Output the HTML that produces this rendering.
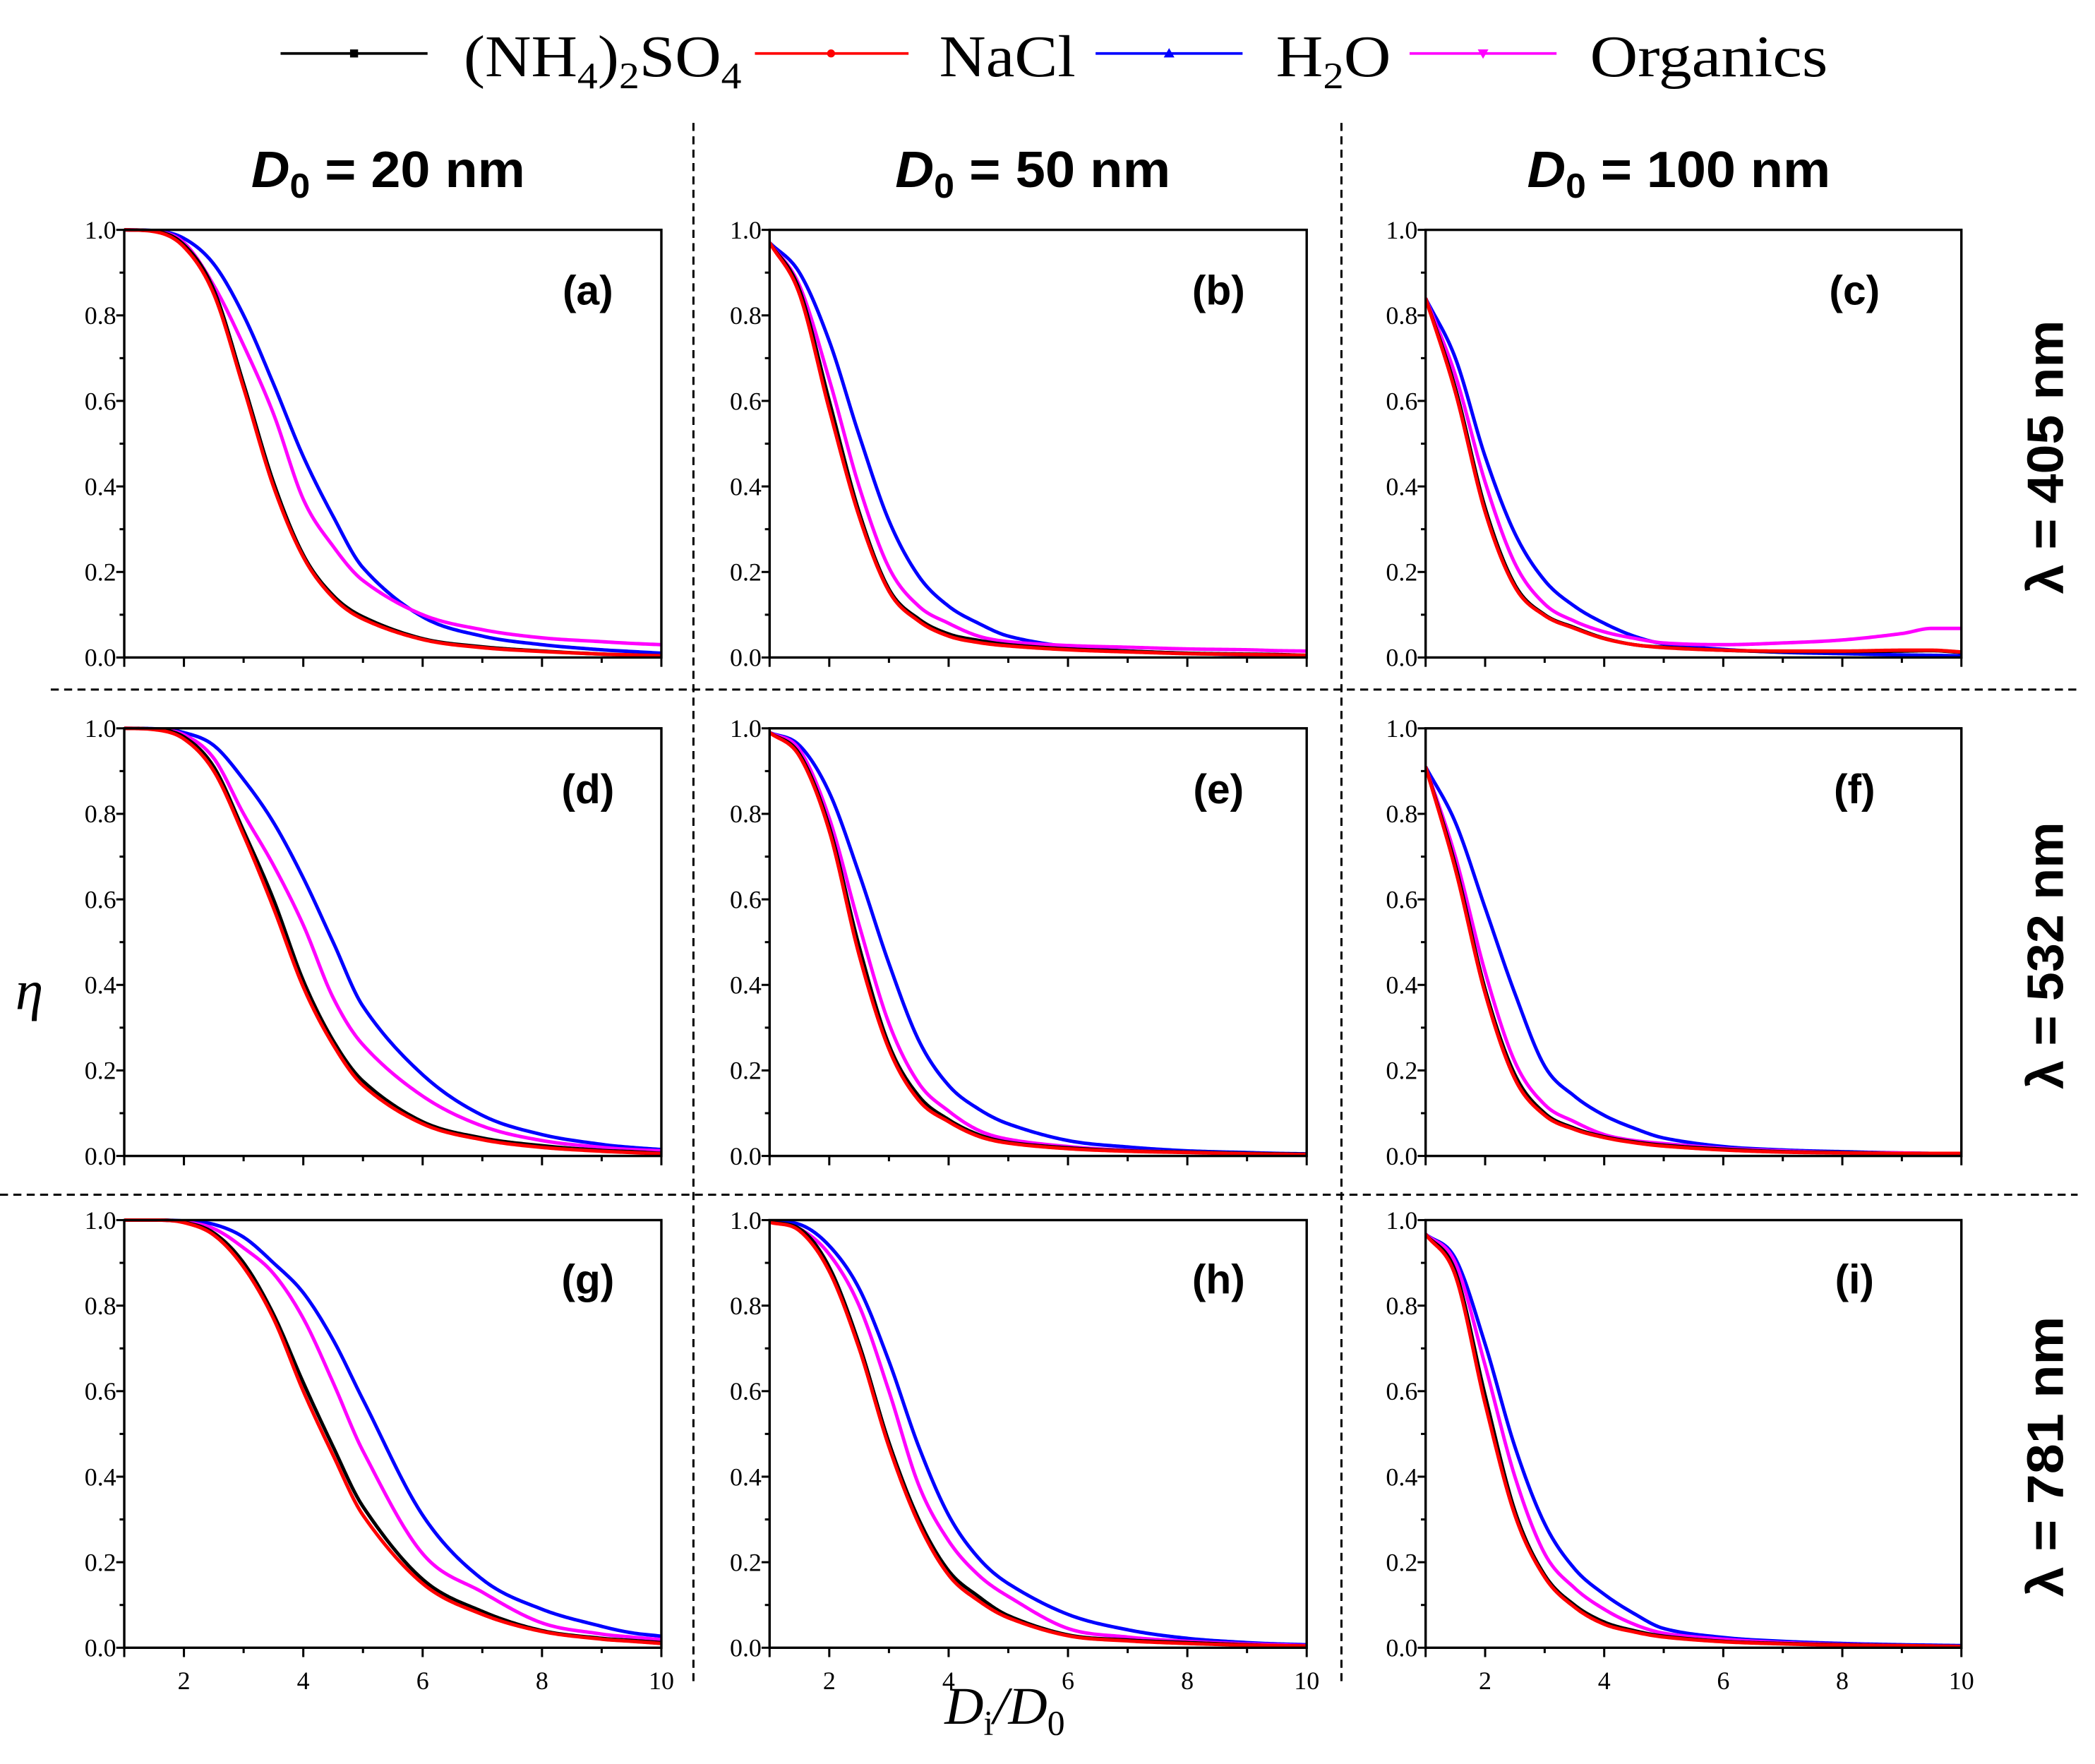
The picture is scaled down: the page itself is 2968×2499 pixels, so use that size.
<!DOCTYPE html>
<html>
<head>
<meta charset="utf-8">
<style>
html,body{margin:0;padding:0;background:#fff;}
svg{display:block;}
</style>
</head>
<body>
<svg id="fig" xmlns="http://www.w3.org/2000/svg" width="2968" height="2499" viewBox="0 0 1568 1320" preserveAspectRatio="none">
  <rect x="0" y="0" width="1568" height="1320" fill="#fff"/>
  <g font-family="'Liberation Serif', serif" font-size="44" fill="#000">
    <g>
      <line x1="210" y1="40" x2="320" y2="40" stroke="#000" stroke-width="2"/>
      <rect x="262" y="37" width="6" height="6" fill="#000"/>
      <text x="347" y="57" textLength="208" lengthAdjust="spacingAndGlyphs">(NH<tspan font-size="28" dy="9">4</tspan><tspan dy="-9">)</tspan><tspan font-size="28" dy="9">2</tspan><tspan dy="-9">SO</tspan><tspan font-size="28" dy="9">4</tspan></text>
    </g>
    <g>
      <line x1="565" y1="40" x2="680" y2="40" stroke="#f00" stroke-width="2"/>
      <circle cx="622" cy="40" r="3" fill="#f00"/>
      <text x="703" y="57" textLength="102" lengthAdjust="spacingAndGlyphs">NaCl</text>
    </g>
    <g>
      <line x1="820" y1="40" x2="930" y2="40" stroke="#00f" stroke-width="2"/>
      <path d="M875,36 L879,43 L871,43 Z" fill="#00f"/>
      <text x="955" y="57" textLength="86" lengthAdjust="spacingAndGlyphs">H<tspan font-size="28" dy="9">2</tspan><tspan dy="-9">O</tspan></text>
    </g>
    <g>
      <line x1="1055" y1="40" x2="1165" y2="40" stroke="#f0f" stroke-width="2"/>
      <path d="M1106,37 L1114,37 L1110,44 Z" fill="#f0f"/>
      <text x="1190" y="57" textLength="178" lengthAdjust="spacingAndGlyphs">Organics</text>
    </g>
  </g>
  <g font-family="'Liberation Sans', sans-serif" font-weight="bold" font-size="38" fill="#000">
    <text x="188" y="140" textLength="205" lengthAdjust="spacingAndGlyphs"><tspan font-style="italic">D</tspan><tspan font-size="26" dy="8">0</tspan><tspan dy="-8"> = 20 nm</tspan></text>
    <text x="670" y="140" textLength="206" lengthAdjust="spacingAndGlyphs"><tspan font-style="italic">D</tspan><tspan font-size="26" dy="8">0</tspan><tspan dy="-8"> = 50 nm</tspan></text>
    <text x="1143" y="140" textLength="227" lengthAdjust="spacingAndGlyphs"><tspan font-style="italic">D</tspan><tspan font-size="26" dy="8">0</tspan><tspan dy="-8"> = 100 nm</tspan></text>
  </g>
  <g font-family="'Liberation Sans', sans-serif" font-weight="bold" font-size="38" fill="#000" text-anchor="middle">
    <text transform="translate(1544,342) rotate(-90)" textLength="205" lengthAdjust="spacingAndGlyphs">λ = 405 nm</text>
    <text transform="translate(1544,715) rotate(-90)" textLength="200" lengthAdjust="spacingAndGlyphs">λ = 532 nm</text>
    <text transform="translate(1544,1090) rotate(-90)" textLength="210" lengthAdjust="spacingAndGlyphs">λ = 781 nm</text>
  </g>
  <g stroke="#000" stroke-width="1.6" stroke-dasharray="6,4" fill="none">
    <line x1="519" y1="92" x2="519" y2="1258"/>
    <line x1="1004" y1="92" x2="1004" y2="1258"/>
    <line x1="38" y1="516" x2="1555" y2="516"/>
    <line x1="0" y1="894" x2="1555" y2="894"/>
  </g>
  <text x="22" y="755" font-family="'Liberation Serif', serif" font-style="italic" font-size="42" text-anchor="middle">η</text>
  <text x="707" y="1290" font-family="'Liberation Serif', serif" font-style="italic" font-size="40" textLength="90" lengthAdjust="spacingAndGlyphs">D<tspan font-size="26" dy="8" font-style="normal">i</tspan><tspan dy="-8">/D</tspan><tspan font-size="26" dy="8" font-style="normal">0</tspan></text>
  <g id="panels"></g>
</svg>
<script>
const xGrid = [1,1.5,2,2.5,3,3.5,4,4.5,5,6,7,8,9,9.5,10];
const seriesNames = ["h2o","organics","nh4so4","nacl"];
const seriesColors = ["#0000ff","#ff00ff","#000000","#ff0000"];
const yTickLabels = ["0.0","0.2","0.4","0.6","0.8","1.0"];
const xTickLabels = ["2","4","6","8","10"];
const panelLetters = ["(a)","(b)","(c)","(d)","(e)","(f)","(g)","(h)","(i)"];

const aNH4 = [1,0.997,0.965,0.86,0.64,0.41,0.24,0.145,0.095,0.044,0.025,0.015,0.008,0.006,0.004];
const aNaCl = [1,0.996,0.96,0.85,0.63,0.40,0.235,0.14,0.09,0.042,0.023,0.014,0.008,0.006,0.004];
const aH2O = [1,0.998,0.98,0.92,0.80,0.64,0.47,0.33,0.21,0.095,0.05,0.03,0.018,0.014,0.01];
const aOrg = [1,0.997,0.97,0.87,0.73,0.57,0.37,0.26,0.18,0.10,0.065,0.046,0.037,0.033,0.03];
const bNH4 = [0.97,0.86,0.60,0.34,0.16,0.09,0.055,0.04,0.03,0.02,0.015,0.01,0.008,0.007,0.005];
const bNaCl = [0.97,0.85,0.58,0.33,0.155,0.085,0.05,0.035,0.027,0.018,0.013,0.009,0.007,0.006,0.005];
const bH2O = [0.97,0.90,0.74,0.52,0.32,0.19,0.12,0.08,0.05,0.025,0.015,0.01,0.006,0.005,0.004];
const bOrg = [0.97,0.87,0.65,0.40,0.21,0.12,0.08,0.05,0.037,0.028,0.024,0.02,0.018,0.016,0.015];
const cNH4 = [0.84,0.63,0.35,0.17,0.10,0.07,0.045,0.03,0.024,0.017,0.014,0.014,0.015,0.016,0.012];
const cNaCl = [0.84,0.62,0.34,0.165,0.098,0.068,0.044,0.03,0.023,0.017,0.015,0.015,0.017,0.017,0.013];
const cH2O = [0.84,0.70,0.47,0.29,0.18,0.12,0.08,0.05,0.032,0.019,0.012,0.009,0.006,0.005,0.004];
const cOrg = [0.84,0.66,0.41,0.22,0.125,0.085,0.06,0.045,0.034,0.03,0.034,0.041,0.056,0.068,0.068];
const dNH4 = [1,0.998,0.98,0.91,0.76,0.60,0.41,0.27,0.175,0.08,0.042,0.024,0.013,0.01,0.006];
const dNaCl = [1,0.997,0.975,0.90,0.75,0.58,0.395,0.26,0.165,0.075,0.038,0.02,0.011,0.008,0.005];
const dH2O = [1,0.999,0.99,0.96,0.88,0.78,0.65,0.50,0.35,0.19,0.095,0.05,0.027,0.02,0.015];
const dOrg = [1,0.998,0.985,0.93,0.80,0.68,0.54,0.37,0.26,0.14,0.07,0.036,0.02,0.015,0.012];
const eNH4 = [0.99,0.94,0.77,0.49,0.26,0.14,0.085,0.05,0.032,0.019,0.012,0.009,0.006,0.005,0.004];
const eNaCl = [0.99,0.935,0.76,0.47,0.25,0.13,0.08,0.046,0.03,0.017,0.011,0.008,0.005,0.004,0.003];
const eH2O = [0.99,0.96,0.85,0.66,0.45,0.27,0.165,0.11,0.075,0.036,0.021,0.012,0.008,0.006,0.005];
const eOrg = [0.99,0.95,0.79,0.54,0.31,0.17,0.105,0.06,0.039,0.022,0.013,0.009,0.006,0.005,0.004];
const fNH4 = [0.91,0.68,0.39,0.19,0.10,0.065,0.045,0.033,0.025,0.016,0.01,0.008,0.006,0.006,0.006];
const fNaCl = [0.91,0.67,0.38,0.18,0.095,0.062,0.043,0.031,0.023,0.014,0.009,0.007,0.006,0.006,0.006];
const fH2O = [0.91,0.78,0.58,0.38,0.21,0.14,0.095,0.065,0.042,0.022,0.014,0.01,0.007,0.006,0.005];
const fOrg = [0.91,0.70,0.43,0.22,0.12,0.08,0.05,0.036,0.029,0.018,0.012,0.008,0.007,0.006,0.006];
const gNH4 = [1,1,0.995,0.97,0.90,0.78,0.62,0.47,0.33,0.16,0.085,0.04,0.022,0.017,0.012];
const gNaCl = [1,1,0.994,0.965,0.89,0.77,0.60,0.45,0.31,0.15,0.078,0.038,0.02,0.015,0.01];
const gH2O = [1,1,0.998,0.99,0.96,0.90,0.83,0.72,0.58,0.31,0.16,0.09,0.05,0.035,0.027];
const gOrg = [1,1,0.996,0.98,0.935,0.875,0.77,0.62,0.46,0.22,0.13,0.058,0.032,0.025,0.019];
const hNH4 = [0.995,0.98,0.89,0.71,0.48,0.30,0.18,0.12,0.075,0.03,0.018,0.012,0.007,0.005,0.004];
const hNaCl = [0.995,0.975,0.88,0.70,0.47,0.29,0.17,0.11,0.07,0.028,0.016,0.01,0.006,0.005,0.004];
const hH2O = [0.998,0.99,0.94,0.84,0.67,0.47,0.31,0.21,0.15,0.078,0.042,0.022,0.012,0.009,0.007];
const hOrg = [0.995,0.98,0.92,0.80,0.60,0.38,0.25,0.17,0.12,0.045,0.025,0.015,0.009,0.007,0.005];
const iNH4 = [0.967,0.88,0.59,0.32,0.17,0.10,0.06,0.04,0.027,0.015,0.01,0.007,0.005,0.004,0.003];
const iNaCl = [0.967,0.87,0.57,0.31,0.165,0.095,0.055,0.037,0.025,0.014,0.009,0.006,0.005,0.004,0.003];
const iH2O = [0.967,0.91,0.71,0.47,0.29,0.185,0.125,0.08,0.045,0.024,0.015,0.01,0.007,0.006,0.005];
const iOrg = [0.967,0.90,0.66,0.40,0.22,0.14,0.09,0.055,0.034,0.02,0.012,0.008,0.005,0.004,0.003];

const panelSeries = [
  [aH2O,aOrg,aNH4,aNaCl],[bH2O,bOrg,bNH4,bNaCl],[cH2O,cOrg,cNH4,cNaCl],
  [dH2O,dOrg,dNH4,dNaCl],[eH2O,eOrg,eNH4,eNaCl],[fH2O,fOrg,fNH4,fNaCl],
  [gH2O,gOrg,gNH4,gNaCl],[hH2O,hOrg,hNH4,hNaCl],[iH2O,iOrg,iNH4,iNaCl]
];

const NS = "http://www.w3.org/2000/svg";
const colL = [93,576,1067], colR = [495,978,1468];
const rowT = [172,545,913], rowB = [492,865,1233];
const letterX = [440,912,1388];
const letterY = [228,601,968];

function mk(tag, attrs, parent){
  const e = document.createElementNS(NS, tag);
  for (const k in attrs) e.setAttribute(k, attrs[k]);
  parent.appendChild(e);
  return e;
}

function smoothInterp(xs, ys){
  const n = xs.length, d = [], m = [];
  for (let i=0;i<n-1;i++) d.push((ys[i+1]-ys[i])/(xs[i+1]-xs[i]));
  m[0]=d[0]; m[n-1]=d[n-2];
  for (let i=1;i<n-1;i++){
    if (d[i-1]*d[i]<=0){ m[i]=0; continue; }
    m[i] = (ys[i+1]-ys[i-1])/(xs[i+1]-xs[i-1]);
  }
  for (let i=0;i<n-1;i++){
    if (d[i]===0){ m[i]=0; m[i+1]=0; continue; }
    const a=m[i]/d[i], b=m[i+1]/d[i], s=a*a+b*b;
    if (s>9){ const t=3/Math.sqrt(s); m[i]=t*a*d[i]; m[i+1]=t*b*d[i]; }
  }
  return function(x){
    let i=0; while(i<n-2 && x>xs[i+1]) i++;
    const h=xs[i+1]-xs[i], t=(x-xs[i])/h, t2=t*t, t3=t2*t;
    return (2*t3-3*t2+1)*ys[i]+(t3-2*t2+t)*h*m[i]+(-2*t3+3*t2)*ys[i+1]+(t3-t2)*h*m[i+1];
  };
}

const root = document.getElementById("panels");
for (let p=0;p<9;p++){
  const r = Math.floor(p/3), c = p%3;
  const L=colL[c], R=colR[c], T=rowT[r], B=rowB[r];
  const xs = v => L + (v-1)/9*(R-L);
  const ys = v => B - v*(B-T);
  const g = mk("g", {}, root);
  
  

  const clipId = "clip"+p;
  const cp = mk("clipPath",{id:clipId},g);
  mk("rect",{x:L,y:T-2,width:R-L,height:B-T+4},cp);
  const sg = mk("g",{"clip-path":"url(#"+clipId+")"},g);
  for (let s=0;s<4;s++){
    const f = smoothInterp(xGrid, panelSeries[p][s]);
    let d="";
    for (let k=0;k<=300;k++){
      const xv = 1 + 9*k/300;
      d += (k?"L":"M") + xs(xv).toFixed(2) + "," + ys(f(xv)).toFixed(2);
    }
    const path = mk("path",{d:d,fill:"none",stroke:seriesColors[s],"stroke-width":2.6,"stroke-linejoin":"round"},sg);
    
    
  }

  const frame = mk("rect",{x:L,y:T,width:R-L,height:B-T,fill:"none",stroke:"#000","stroke-width":1.8},g);
  
  

  for (let k=0;k<=10;k++){
    const y = ys(k/10), major = k%2===0;
    mk("line",{x1:L,y1:y,x2:L-(major?6:3.5),y2:y,stroke:"#000","stroke-width":1.6},g);
    if (major){
      const t = mk("text",{x:L-6,y:y+6.5,"text-anchor":"end","font-family":"'Liberation Serif', serif","font-size":19},g);
      t.textContent = yTickLabels[k/2];
      
      
    }
  }
  for (let v=1; v<=10; v++){
    const x = xs(v), major = v%2===0 || v===1;
    mk("line",{x1:x,y1:B,x2:x,y2:B+(major?7:4),stroke:"#000","stroke-width":1.6},g);
    if (r===2 && v%2===0){
      const t = mk("text",{x:x,y:B+31,"text-anchor":"middle","font-family":"'Liberation Serif', serif","font-size":19},g);
      t.textContent = xTickLabels[v/2-1];
      
      
    }
  }
  const lt = mk("text",{x:letterX[c],y:letterY[r],"text-anchor":"middle","font-family":"'Liberation Sans', sans-serif","font-weight":"bold","font-size":31},g);
  lt.textContent = panelLetters[p];
  
  
}
</script>
</body>
</html>
